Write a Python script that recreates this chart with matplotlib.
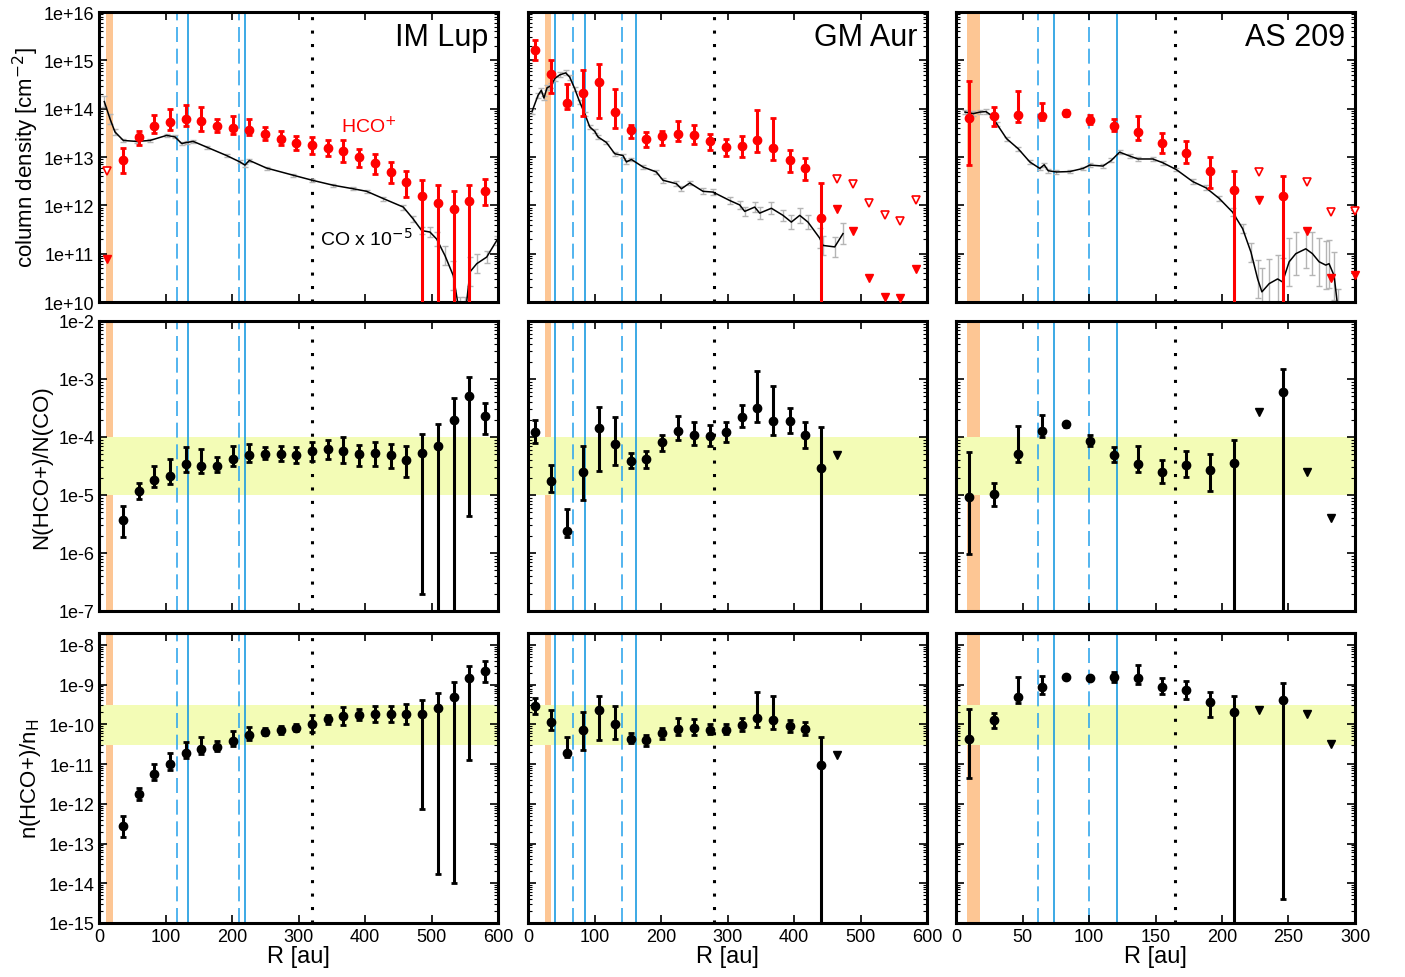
import numpy as np
import matplotlib
matplotlib.use('Agg')
import matplotlib.pyplot as plt
from matplotlib.ticker import FixedLocator, FuncFormatter, LogLocator, NullFormatter

plt.rcParams['font.family'] = ['Liberation Sans', 'DejaVu Sans']

# ---------------- IM Lup ----------------
imlup_r = [35.6, 59.6, 82.7, 106.8, 130.3, 153.9, 177.4, 202, 225, 249, 273, 296,
           320, 344, 367, 391, 414.5, 438.6, 462, 485.7, 509.8, 533.4, 556.8, 580.9]
imlup_hco = [8.5e12, 2.6e13, 4.3e13, 5.2e13, 6.2e13, 5.6e13, 4.3e13, 4.0e13, 3.7e13, 3.0e13, 2.4e13, 1.95e13,
             1.74e13, 1.55e13, 1.32e13, 1.0e13, 7.5e12, 4.9e12, 3.0e12, 1.55e12, 1.12e12, 8.3e11, 1.23e12, 2.0e12]
imlup_hco_lo = [4.6e12, 1.8e13, 3.2e13, 3.7e13, 4.3e13, 3.4e13, 3.3e13, 3.0e13, 2.8e13, 2.3e13, 1.74e13, 1.38e13,
                1.17e13, 1.07e13, 7.9e12, 6.2e12, 4.5e12, 2.9e12, 1.5e12, 1e7, 1e7, 1e7, 1e7, 1.0e12]
imlup_hco_hi = [1.5e13, 3.4e13, 7.5e13, 1.0e14, 1.17e14, 1.07e14, 6.0e13, 6.9e13, 6.0e13, 4.1e13, 3.5e13, 2.7e13,
                2.6e13, 2.3e13, 2.3e13, 1.48e13, 1.17e13, 7.9e12, 5.2e12, 3.3e12, 2.6e12, 2.0e12, 2.6e12, 3.5e12]
imlup_ul_r = [12]
imlup_ul_open = [5.2e12]
imlup_ul_fill = [7.6e10]

imlup_co_r = [8, 16.5, 24, 36.6, 56.7, 76.7, 101.8, 114.3, 124.3, 131.9, 141.8, 162, 192, 212, 219.5, 226,
              252, 292, 320.8, 352.4, 382.4, 402.5, 427.5, 457.6, 472.6, 485.3, 497.7, 507.8, 520.3, 532.8,
              542.9, 550.4, 557.9, 568, 583, 598]
imlup_co = [1.4e14, 6.2e13, 3.3e13, 2.2e13, 2.1e13, 2.2e13, 2.8e13, 2.6e13, 1.9e13, 2.0e13, 2.1e13, 1.6e13,
            1.07e13, 7.9e12, 6.8e12, 8.5e12, 5.9e12, 4.2e12, 3.3e12, 2.6e12, 2.2e12, 1.95e12, 1.38e12, 9.2e11,
            5.2e11, 3.0e11, 2.8e11, 2.0e11, 9.1e10, 3.5e10, 5e9, 5e9, 4.2e10, 6.2e10, 8.5e10, 1.86e11]
imlup_co_dex = [0.12, 0.1, 0.06, 0.04, 0.03, 0.03, 0.03, 0.03, 0.03, 0.03, 0.03, 0.03, 0.03, 0.03, 0.03, 0.03,
                0.03, 0.03, 0.03, 0.03, 0.03, 0.03, 0.04, 0.05, 0.06, 0.08, 0.1, 0.15, 0.2, 0.3,
                0.4, 0.4, 0.3, 0.2, 0.12, 0.1]

imlup_ratio = [3.7e-6, 1.19e-5, 1.84e-5, 2.15e-5, 3.45e-5, 3.2e-5, 3.2e-5, 4.2e-5, 4.8e-5, 5.1e-5, 5.1e-5, 4.9e-5,
               5.7e-5, 6.2e-5, 5.8e-5, 5.0e-5, 5.2e-5, 4.8e-5, 4.0e-5, 5.3e-5, 7.1e-5, 2.0e-4, 5.1e-4, 2.3e-4]
imlup_ratio_lo = [1.9e-6, 8.5e-6, 1.35e-5, 1.55e-5, 2.45e-5, 2.4e-5, 2.45e-5, 3.2e-5, 3.7e-5, 4.1e-5, 3.8e-5, 3.6e-5,
                  3.9e-5, 4.2e-5, 3.5e-5, 3.2e-5, 3.2e-5, 2.9e-5, 2.07e-5, 1.95e-7, 1e-12, 1e-12, 4.4e-6, 1.13e-4]
imlup_ratio_hi = [6.5e-6, 1.62e-5, 3.2e-5, 4.1e-5, 6.6e-5, 6.2e-5, 4.5e-5, 7.1e-5, 7.6e-5, 6.8e-5, 6.9e-5, 6.8e-5,
                  8.3e-5, 8.9e-5, 1.02e-4, 7.3e-5, 8.1e-5, 7.6e-5, 7.1e-5, 1.13e-4, 1.7e-4, 4.7e-4, 1.08e-3, 3.9e-4]

imlup_abund = [2.7e-13, 1.78e-12, 5.5e-12, 9.8e-12, 1.96e-11, 2.47e-11, 2.7e-11, 3.85e-11, 5.3e-11, 6.45e-11,
               7.1e-11, 8.1e-11, 1.04e-10, 1.33e-10, 1.62e-10, 1.74e-10, 1.85e-10, 1.85e-10, 1.87e-10, 1.85e-10,
               2.57e-10, 4.8e-10, 1.44e-9, 2.24e-9]
imlup_abund_lo = [1.45e-13, 1.26e-12, 4.0e-12, 7.1e-12, 1.39e-11, 1.85e-11, 2.1e-11, 2.8e-11, 4.0e-11, 5.4e-11,
                  5.8e-11, 6.8e-11, 6.45e-11, 1.05e-10, 9.4e-11, 1.3e-10, 1.15e-10, 1.15e-10, 1.0e-10, 7.4e-13,
                  1.68e-14, 1.0e-14, 1.26e-11, 1.15e-9]
imlup_abund_hi = [4.8e-13, 2.5e-12, 9.8e-12, 1.93e-11, 3.6e-11, 4.8e-11, 3.8e-11, 6.8e-11, 8.6e-11, 8.0e-11,
                  9.0e-11, 1.05e-10, 1.68e-10, 1.75e-10, 2.7e-10, 2.5e-10, 2.9e-10, 2.95e-10, 3.3e-10, 4.1e-10,
                  6.2e-10, 1.2e-9, 3.0e-9, 4.0e-9]

# ---------------- GM Aur ----------------
gmaur_r = [11.1, 35.1, 59.2, 83.3, 106.8, 130.8, 154.4, 178, 202, 226.2, 249.6, 273.2, 297.7, 321.3,
           345, 369, 393.5, 416.5, 440.6]
gmaur_hco = [1.66e15, 5.1e14, 1.32e14, 2.15e14, 3.6e14, 8.7e13, 3.55e13, 2.4e13, 2.7e13, 3.0e13, 2.8e13,
             2.1e13, 1.62e13, 1.7e13, 2.2e13, 1.55e13, 8.5e12, 5.9e12, 5.5e11]
gmaur_hco_lo = [1.02e15, 2.1e14, 9.7e13, 7.1e13, 6.5e13, 3.9e13, 2.5e13, 1.62e13, 1.74e13, 2.1e13, 1.88e13,
                1.38e13, 1.07e13, 1.0e13, 1.26e13, 8.7e12, 5.0e12, 3.4e12, 1e7]
gmaur_hco_hi = [2.6e15, 1.0e15, 3.2e14, 6.2e14, 8.5e14, 2.6e14, 4.7e13, 3.3e13, 3.5e13, 5.5e13, 4.7e13,
                3.0e13, 2.4e13, 2.7e13, 9.5e13, 6.5e13, 1.38e13, 9.7e12, 2.9e12]
gmaur_ul_r = [464.7, 488.8, 512.4, 536.4, 560, 584]
gmaur_ul_open = [3.5e12, 2.8e12, 1.13e12, 6.4e11, 4.7e11, 1.31e12]
gmaur_ul_fill = [8.3e11, 2.96e11, 3.2e10, 1.26e10, 1.2e10, 4.9e10]

gmaur_co_r = [6, 15, 20, 24, 28.6, 35.2, 40.2, 47.7, 56.7, 62.7, 70.2, 77.7, 85.3, 92.8, 100.3, 105.3, 117.9,
              130.4, 142.9, 148, 155.5, 173, 193, 203, 223.2, 230.7, 243.2, 263.2, 278.2, 303.3, 318.3, 325.9,
              340.9, 348.4, 366, 383.5, 396, 408.6, 421, 438.6, 443.6, 461.2, 473.7]
gmaur_co = [8.7e13, 1.88e14, 2.4e14, 1.66e14, 2.7e14, 3.0e14, 4.2e14, 5.0e14, 5.5e14, 4.5e14, 2.6e14, 1.38e14,
            7.9e13, 4.2e13, 3.4e13, 2.6e13, 2.0e13, 1.17e13, 1.07e13, 7.9e12, 8.9e12, 6.2e12, 4.9e12, 3.3e12,
            2.8e12, 2.2e12, 2.9e12, 1.95e12, 1.88e12, 1.26e12, 1.02e12, 7.5e11, 9.2e11, 6.9e11, 8.7e11, 6.2e11,
            4.5e11, 6.2e11, 4.5e11, 2.1e11, 1.48e11, 1.38e11, 2.6e11]
gmaur_co_dex = [0.05, 0.05, 0.05, 0.05, 0.05, 0.05, 0.05, 0.05, 0.05, 0.05, 0.04, 0.04, 0.04, 0.04, 0.04, 0.04,
                0.04, 0.04, 0.04, 0.04, 0.04, 0.04, 0.05, 0.05, 0.05, 0.05, 0.05, 0.06, 0.06, 0.07, 0.08, 0.1,
                0.1, 0.12, 0.12, 0.12, 0.15, 0.15, 0.15, 0.2, 0.2, 0.2, 0.22]

gmaur_ratio = [1.24e-4, 1.72e-5, 2.4e-6, 2.45e-5, 1.41e-4, 7.6e-5, 3.9e-5, 4.2e-5, 8.1e-5, 1.26e-4, 1.09e-4,
               1.06e-4, 1.21e-4, 2.2e-4, 3.15e-4, 1.87e-4, 1.92e-4, 1.1e-4, 2.9e-5]
gmaur_ratio_lo = [7.8e-5, 1.11e-5, 1.86e-6, 8.3e-6, 2.56e-5, 3.3e-5, 2.9e-5, 2.9e-5, 5.8e-5, 9.0e-5, 7.4e-5,
                  7.1e-5, 8.1e-5, 1.48e-4, 1.85e-4, 1.09e-4, 1.16e-4, 6.4e-5, 1e-12]
gmaur_ratio_hi = [2.0e-4, 3.3e-5, 5.8e-6, 7.1e-5, 3.3e-4, 2.2e-4, 5.3e-5, 5.7e-5, 1.1e-4, 2.3e-4, 1.8e-4,
                  1.58e-4, 1.8e-4, 3.5e-4, 1.35e-3, 7.7e-4, 3.15e-4, 1.8e-4, 1.48e-4]
gmaur_ratio_ul_r = [464.7]
gmaur_ratio_ul = [4.8e-5]

gmaur_abund = [2.9e-10, 1.15e-10, 1.96e-11, 7.1e-11, 2.24e-10, 1.0e-10, 4.4e-11, 4.0e-11, 6.1e-11, 7.8e-11,
               8.1e-11, 7.4e-11, 7.4e-11, 9.4e-11, 1.47e-10, 1.31e-10, 9.1e-11, 7.8e-11, 9.4e-12]
gmaur_abund_lo = [1.85e-10, 7.4e-11, 1.53e-11, 2.3e-11, 4.1e-11, 4.2e-11, 3.5e-11, 2.8e-11, 4.4e-11, 5.5e-11,
                  5.5e-11, 5.8e-11, 5.6e-11, 7.0e-11, 8.6e-11, 7.5e-11, 6.5e-11, 5.4e-11, 1e-20]
gmaur_abund_hi = [4.7e-10, 2.3e-10, 4.8e-11, 2.04e-10, 5.3e-10, 2.9e-10, 5.9e-11, 5.5e-11, 8.1e-11, 1.45e-10,
                  1.4e-10, 1.0e-10, 1.05e-10, 1.45e-10, 6.4e-10, 5.3e-10, 1.3e-10, 1.15e-10, 4.8e-11]
gmaur_abund_ul_r = [464.7]
gmaur_abund_ul = [1.68e-11]

# ---------------- AS 209 ----------------
as209_r = [10.0, 28.3, 46.3, 64.5, 82.5, 100.8, 118.8, 137, 155, 173, 191.3, 209.3, 246]
as209_hco = [6.5e13, 7.0e13, 7.5e13, 7.0e13, 8.1e13, 5.9e13, 4.4e13, 3.3e13, 1.95e13, 1.23e13, 5.2e12, 2.1e12, 1.55e12]
as209_hco_lo = [6.8e12, 4.4e13, 5.2e13, 5.8e13, 7.0e13, 4.9e13, 3.4e13, 2.3e13, 1.23e13, 7.6e12, 2.3e12, 1e7, 1e7]
as209_hco_hi = [3.8e14, 1.07e14, 2.3e14, 1.3e14, 9.2e13, 7.5e13, 6.0e13, 6.9e13, 3.2e13, 2.1e13, 1.0e13, 5.2e12, 4.1e12]
as209_ul_r = [227.5, 263.8, 282, 300]
as209_ul_open = [4.9e12, 3.1e12, 7.2e11, 7.6e11]
as209_ul_fill = [1.27e12, 2.96e11, 3.2e10, 3.6e10]

as209_co_r = [6.75, 13, 18, 22.5, 26.8, 30.5, 38, 46.8, 55.5, 63, 66.3, 69.3, 75.5, 85.5, 95.5, 100.5, 110.5,
              116.8, 123, 130.5, 136.8, 148, 155.5, 165.6, 178, 188, 198, 208, 215.5, 221.8, 226.8, 230, 235.5,
              241.8, 245.5, 250.5, 255.5, 263, 268, 273, 278, 280.5, 284.3, 287.5]
as209_co = [8.5e13, 7.9e13, 8.5e13, 8.7e13, 7.2e13, 4.9e13, 2.4e13, 1.48e13, 7.9e12, 5.8e12, 6.9e12, 5.2e12,
            4.9e12, 5.0e12, 5.8e12, 6.8e12, 6.5e12, 8.5e12, 1.26e13, 1.05e13, 9.1e12, 9.1e12, 7.6e12, 5.5e12,
            3.1e12, 2.3e12, 1.38e12, 7.2e11, 3.3e11, 1.07e11, 3.0e10, 1.62e10, 2.4e10, 3.0e10, 2.6e10, 6.8e10,
            1.0e11, 1.26e11, 1.0e11, 6.8e10, 5.8e10, 6.2e10, 3.5e10, 6e9]
as209_co_dex = [0.05, 0.05, 0.05, 0.05, 0.04, 0.04, 0.04, 0.04, 0.04, 0.04, 0.04, 0.04, 0.04, 0.04, 0.04, 0.04,
                0.04, 0.04, 0.04, 0.04, 0.04, 0.04, 0.04, 0.04, 0.05, 0.05, 0.06, 0.08, 0.1, 0.2, 0.4, 0.5, 0.5,
                0.5, 0.5, 0.5, 0.45, 0.4, 0.45, 0.5, 0.5, 0.5, 0.5, 0.5]

as209_ratio = [9.1e-6, 1.04e-5, 5.1e-5, 1.26e-4, 1.66e-4, 8.7e-5, 4.8e-5, 3.4e-5, 2.45e-5, 3.3e-5, 2.74e-5, 3.6e-5, 5.9e-4]
as209_ratio_lo = [9.5e-7, 6.5e-6, 3.7e-5, 1.02e-4, 1.5e-4, 7.1e-5, 3.7e-5, 2.45e-5, 1.62e-5, 2.07e-5, 1.19e-5, 1e-12, 1e-12]
as209_ratio_hi = [5.5e-5, 1.62e-5, 1.55e-4, 2.35e-4, 1.85e-4, 1.09e-4, 6.6e-5, 7.1e-5, 4.0e-5, 5.7e-5, 5.1e-5, 9.0e-5, 1.5e-3]
as209_ratio_ul_r = [227.5, 263.8, 282]
as209_ratio_ul = [2.7e-4, 2.45e-5, 4.0e-6]

as209_abund = [4.2e-11, 1.31e-10, 4.8e-10, 8.9e-10, 1.53e-9, 1.47e-9, 1.53e-9, 1.47e-9, 8.9e-10, 7.4e-10,
               3.6e-10, 2.04e-10, 4.2e-10]
as209_abund_lo = [4.4e-12, 8.1e-11, 3.4e-10, 5.9e-10, 1.4e-9, 1.35e-9, 1.19e-9, 1.05e-9, 5.9e-10, 4.4e-10,
                  1.58e-10, 1e-20, 4e-15]
as209_abund_hi = [2.46e-10, 1.95e-10, 1.53e-9, 1.68e-9, 1.68e-9, 1.6e-9, 2.04e-9, 3.1e-9, 1.44e-9, 1.26e-9,
                  6.7e-10, 5.1e-10, 1.08e-9]
as209_abund_ul_r = [227.5, 263.8, 282]
as209_abund_ul = [2.37e-10, 1.85e-10, 3.2e-11]

# disk extras: title, x range, x ticks, orange band, dashed & solid blue lines, dotted line
names = ['IM Lup', 'GM Aur', 'AS 209']
xmax = [600, 600, 300]
xticks = [[0, 100, 200, 300, 400, 500, 600], [0, 100, 200, 300, 400, 500, 600], [0, 50, 100, 150, 200, 250, 300]]
orange_band = [(11, 21), (25, 35), (8, 18)]
dashed_lines = [[117, 210], [67, 141], [62, 100]]
solid_lines = [[134, 220], [41, 85, 162], [74, 121]]
dotted_line = [320, 279, 165]

red = '#ff0000'
blue = '#1a9be0'
blue_dash = '#35a8ec'

fig = plt.figure(figsize=(14.05, 9.78), dpi=100)
col_left = [99 / 1405, 528 / 1405, 956 / 1405]
col_w = 399 / 1405
row_bottom = [1 - 303 / 978, 1 - 612 / 978, 1 - 924 / 978]
row_h = 290 / 978


def style_axis(ax, col, row):
    ax.set_xlim(0, xmax[col])
    ax.set_yscale('log')
    ax.xaxis.set_major_locator(FixedLocator(xticks[col]))
    ax.yaxis.set_minor_locator(LogLocator(base=10, subs=np.arange(2, 10), numticks=30))
    ax.yaxis.set_minor_formatter(NullFormatter())
    ax.tick_params(which='both', direction='in', top=True, right=True, labelsize=13)
    ax.tick_params(which='major', length=6, width=1.2)
    ax.tick_params(which='minor', length=3, width=0.8)
    for s in ax.spines.values():
        s.set_linewidth(2.2)
    if row < 2:
        ax.tick_params(labelbottom=False)
    else:
        ax.set_xlabel('R [au]', fontsize=17, labelpad=0)
    if col > 0:
        ax.tick_params(labelleft=False)
    # markers of the disk structure
    ax.axvspan(orange_band[col][0], orange_band[col][1], color='#fdc694', lw=0, zorder=0)
    for xv in dashed_lines[col]:
        ax.axvline(xv, color=blue_dash, lw=1.2, ls=(0, (9, 4)), zorder=1)
    for xv in solid_lines[col]:
        ax.axvline(xv, color=blue, lw=1.2, zorder=1)
    ax.axvline(dotted_line[col], color='black', lw=2.2, ls=(0, (1, 3.4)), zorder=1)


def err(v, lo, hi):
    v = np.array(v)
    return [v - np.array(lo), np.array(hi) - v]


def co_err(v, dex):
    v = np.array(v)
    d = np.array(dex)
    return [v * (1 - 10 ** -d), v * (10 ** d - 1)]


hco_data = [(imlup_r, imlup_hco, imlup_hco_lo, imlup_hco_hi, imlup_ul_r, imlup_ul_open, imlup_ul_fill,
             imlup_co_r, imlup_co, imlup_co_dex),
            (gmaur_r, gmaur_hco, gmaur_hco_lo, gmaur_hco_hi, gmaur_ul_r, gmaur_ul_open, gmaur_ul_fill,
             gmaur_co_r, gmaur_co, gmaur_co_dex),
            (as209_r, as209_hco, as209_hco_lo, as209_hco_hi, as209_ul_r, as209_ul_open, as209_ul_fill,
             as209_co_r, as209_co, as209_co_dex)]
ratio_data = [(imlup_r, imlup_ratio, imlup_ratio_lo, imlup_ratio_hi, [], []),
              (gmaur_r, gmaur_ratio, gmaur_ratio_lo, gmaur_ratio_hi, gmaur_ratio_ul_r, gmaur_ratio_ul),
              (as209_r, as209_ratio, as209_ratio_lo, as209_ratio_hi, as209_ratio_ul_r, as209_ratio_ul)]
abund_data = [(imlup_r, imlup_abund, imlup_abund_lo, imlup_abund_hi, [], []),
              (gmaur_r, gmaur_abund, gmaur_abund_lo, gmaur_abund_hi, gmaur_abund_ul_r, gmaur_abund_ul),
              (as209_r, as209_abund, as209_abund_lo, as209_abund_hi, as209_abund_ul_r, as209_abund_ul)]

ebar_kw = dict(fmt='o', ms=6, capsize=2.2, capthick=2, elinewidth=2.2, zorder=4, clip_on=True)

for col in range(3):
    # top row: column densities
    ax = fig.add_axes([col_left[col], row_bottom[0], col_w, row_h])
    style_axis(ax, col, 0)
    r, v, lo, hi, ulr, ulo, ulf, cr, cv, cd = hco_data[col]
    ax.errorbar(cr, cv, yerr=co_err(cv, cd), fmt='none', ecolor='#b5b5b5', elinewidth=1, capsize=2,
                capthick=1, zorder=2)
    ax.plot(cr, cv, color='black', lw=1.1, zorder=3)
    ax.errorbar(r, v, yerr=err(v, lo, hi), color=red, mec=red, **ebar_kw)
    ax.plot(ulr, ulo, 'v', ms=6, mfc='white', mec=red, mew=1.2, ls='none', zorder=4, clip_on=False)
    ax.plot(ulr, ulf, 'v', ms=6, color=red, ls='none', zorder=4, clip_on=False)
    ax.set_ylim(1e10, 1e16)
    ax.yaxis.set_major_formatter(FuncFormatter(lambda y, p: '1e+%d' % round(np.log10(y))))
    ax.text(0.975, 0.965, names[col], transform=ax.transAxes, ha='right', va='top', fontsize=22)
    if col == 0:
        ax.set_ylabel('column density [cm$^{-2}$]', fontsize=16, labelpad=2)
        ax.text(364, 4.5e13, 'HCO$^{+}$', color=red, fontsize=14, va='center')
        ax.text(332, 2.1e11, 'CO x 10$^{-5}$', color='black', fontsize=14, va='center')

    # middle row: N(HCO+)/N(CO)
    ax = fig.add_axes([col_left[col], row_bottom[1], col_w, row_h])
    style_axis(ax, col, 1)
    ax.axhspan(1e-5, 1e-4, color='#f3fcb6', lw=0, zorder=0)
    r, v, lo, hi, ulr, ulv = ratio_data[col]
    ax.errorbar(r, v, yerr=err(v, lo, hi), color='black', **ebar_kw)
    ax.plot(ulr, ulv, 'v', ms=6, color='black', ls='none', zorder=4)
    ax.set_ylim(1e-7, 1e-2)
    ax.yaxis.set_major_formatter(FuncFormatter(lambda y, p: '1e%d' % round(np.log10(y))))
    if col == 0:
        ax.set_ylabel('N(HCO+)/N(CO)', fontsize=16, labelpad=4)

    # bottom row: abundance
    ax = fig.add_axes([col_left[col], row_bottom[2], col_w, row_h])
    style_axis(ax, col, 2)
    ax.axhspan(3e-11, 3e-10, color='#f3fcb6', lw=0, zorder=0)
    r, v, lo, hi, ulr, ulv = abund_data[col]
    ax.errorbar(r, v, yerr=err(v, lo, hi), color='black', **ebar_kw)
    ax.plot(ulr, ulv, 'v', ms=6, color='black', ls='none', zorder=4)
    ax.set_ylim(1e-15, 2e-8)
    ax.yaxis.set_major_locator(FixedLocator([1e-15, 1e-14, 1e-13, 1e-12, 1e-11, 1e-10, 1e-9, 1e-8]))
    ax.yaxis.set_major_formatter(FuncFormatter(lambda y, p: '1e%d' % round(np.log10(y))))
    if col == 0:
        ax.set_ylabel('n(HCO+)/n$_\\mathrm{H}$', fontsize=16, labelpad=4)

fig.savefig('out.png', dpi=100)
